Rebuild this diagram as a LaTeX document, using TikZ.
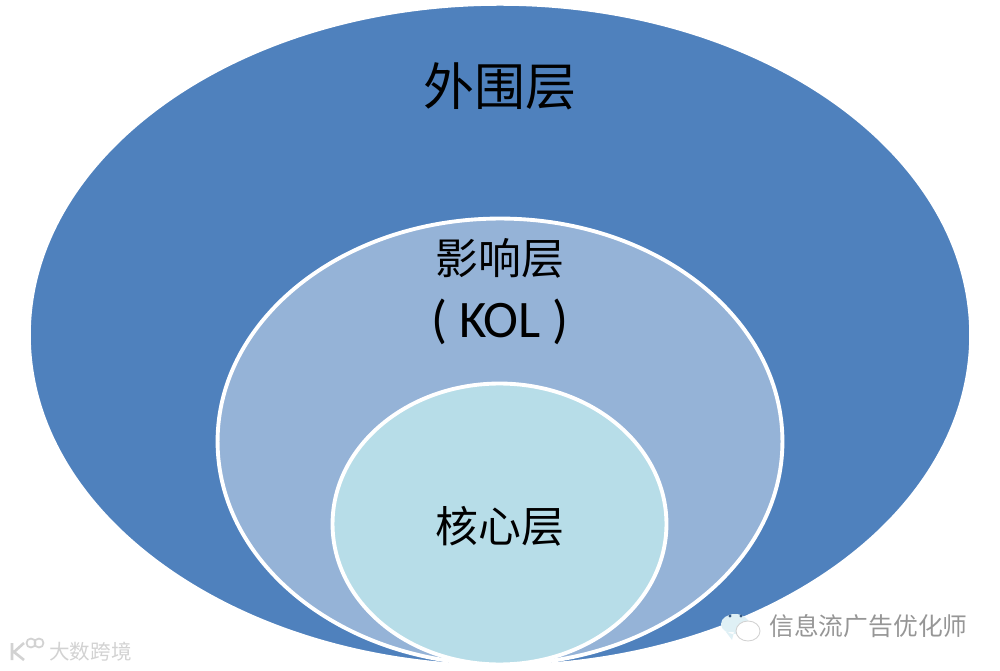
\documentclass[tikz,border=0pt]{standalone}
\usepackage{fontspec}
\setmainfont{Carlito}
\newfontfamily\cjk{Noto Sans CJK SC}
\definecolor{outerblue}{HTML}{4F81BD}
\definecolor{midblue}{HTML}{95B3D7}
\definecolor{innerblue}{HTML}{B7DDE8}
\definecolor{markgray}{HTML}{969696}
\definecolor{logogray}{HTML}{D2D2D2}
\usetikzlibrary{shapes.geometric}

\begin{document}
\begin{tikzpicture}[
  x=0.02cm, y=-0.02cm,
  layer/.style={ellipse, draw=white, line width=2.2pt, inner sep=0pt},
  lab/.style={inner sep=0pt, align=center, text=black},
  wmark/.style={inner sep=0pt, font=\cjk\fontsize{14.1pt}{16pt}\selectfont, text=markgray},
  bubble/.style={draw=logogray, line width=0.5pt, fill=white}
]
\useasboundingbox (0,0) rectangle (1000,671);
\node[layer, fill=outerblue, minimum width=18.85cm, minimum height=13.25cm] (outer) at (500,335) {};
\node[layer, fill=midblue, minimum width=11.3cm, minimum height=8.92cm] (mid) at (500,441.5) {};
\node[layer, fill=innerblue, minimum width=6.68cm, minimum height=5.62cm] (core) at (499.5,524) {};
% layer names
\node[lab, font=\cjk\fontsize{29pt}{31pt}\selectfont] (outertxt) at (500,86) {外围层};
\node[lab, font=\cjk\fontsize{24.4pt}{26pt}\selectfont] (midtxt) at (500,258) {影响层};
\node[lab, font=\fontsize{30pt}{32pt}\selectfont] (koltxt) at (500,322) {( KOL )};
\node[lab, font=\cjk\fontsize{24.4pt}{26pt}\selectfont] (coretxt) at (500,526) {核心层};
% watermarks
\fill[innerblue!45] (735,624) ellipse (14 and 10) (726,632) -- (732,640) -- (734,632) -- cycle;
\fill[outerblue!70!black] (730,616) circle (1.6) (741,616) circle (1.6);
\filldraw[bubble] (748,631) ellipse (12 and 10);
\node[wmark, anchor=west] (wechat) at (769,626) {信息流广告优化师};
\draw[logogray, line width=1.5pt] (12,643) -- (12,660) (24,643) -- (14,652) -- (24,660);
\draw[logogray, line width=1pt] (31,643) circle (4.5) (39,643) circle (4.5);
\node[inner sep=0pt, anchor=west, text=logogray, font=\cjk\fontsize{11.7pt}{13pt}\selectfont] (logo) at (49,652) {大数跨境};
\end{tikzpicture}
\end{document}
